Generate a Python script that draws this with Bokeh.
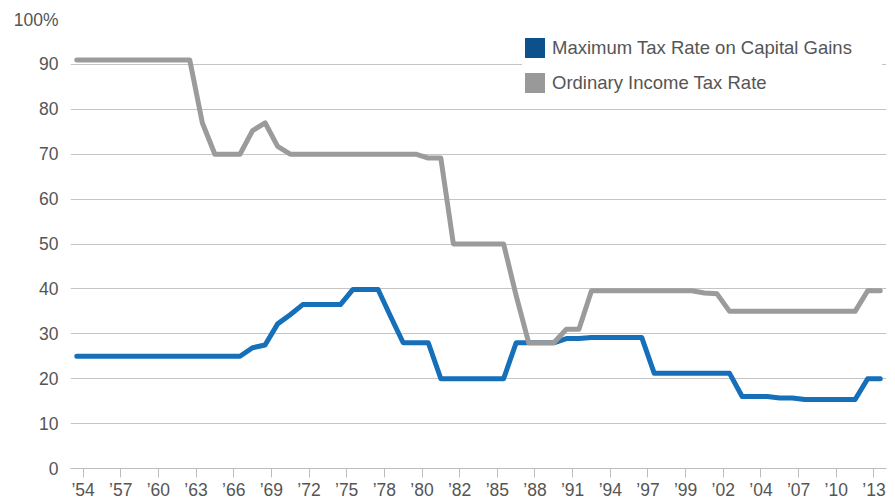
from bokeh.plotting import figure
from bokeh.models import FixedTicker, Legend, LegendItem, Range1d
from bokeh.embed import file_html
from bokeh.resources import INLINE

# Periods (some years appear twice because the rate changed mid-year)
periods = [
    "1954", "1955", "1956", "1957", "1958", "1959", "1960", "1961", "1962", "1963",
    "1964", "1965", "1966", "1967", "1968", "1969", "1970", "1971", "1972", "1973",
    "1974", "1975", "1976", "1977", "1978", "1978b", "1979", "1980", "1981", "1981b",
    "1982", "1983", "1984", "1985", "1986", "1987", "1988", "1989", "1990", "1991",
    "1992", "1993", "1994", "1995", "1996", "1997", "1997b", "1998", "1999", "2000",
    "2001", "2002", "2003", "2003b", "2004", "2005", "2006", "2007", "2008", "2009",
    "2010", "2011", "2012", "2013", "2013b",
]

capital_gains = [
    25, 25, 25, 25, 25, 25, 25, 25, 25, 25,
    25, 25, 25, 25, 26.9, 27.5, 32.21, 34.25, 36.5, 36.5,
    36.5, 36.5, 39.875, 39.875, 39.875, 33.85, 28, 28, 28, 20,
    20, 20, 20, 20, 20, 28, 28, 28, 28, 28.93,
    28.93, 29.19, 29.19, 29.19, 29.19, 29.19, 21.19, 21.19, 21.19, 21.19,
    21.19, 21.19, 21.19, 16.05, 16.05, 16.05, 15.7, 15.7, 15.35, 15.35,
    15.35, 15.35, 15.35, 20, 20,
]

ordinary_income = [
    91, 91, 91, 91, 91, 91, 91, 91, 91, 91,
    77, 70, 70, 70, 75.25, 77, 71.75, 70, 70, 70,
    70, 70, 70, 70, 70, 70, 70, 70, 69.13, 69.13,
    50, 50, 50, 50, 50, 38.5, 28, 28, 28, 31,
    31, 39.6, 39.6, 39.6, 39.6, 39.6, 39.6, 39.6, 39.6, 39.6,
    39.1, 38.9, 35, 35, 35, 35, 35, 35, 35, 35,
    35, 35, 35, 39.6, 39.6,
]

tick_years = ["1954", "1957", "1960", "1963", "1966", "1969", "1972", "1975", "1978",
              "1980", "1982", "1985", "1988", "1991", "1994", "1997", "1999", "2002",
              "2004", "2007", "2010", "2013"]
tick_labels = ["\u201954", "\u201957", "\u201960", "\u201963", "\u201966", "\u201969",
               "\u201972", "\u201975", "\u201978", "\u201980", "\u201982", "\u201985",
               "\u201988", "\u201991", "\u201994", "\u201997", "\u201999", "\u201902",
               "\u201904", "\u201907", "\u201910", "\u201913"]

y_ticks = [0, 10, 20, 30, 40, 50, 60, 70, 80, 90, 100]
y_labels = ["0", "10", "20", "30", "40", "50", "60", "70", "80", "90", "100%"]

series_names = ["Maximum Tax Rate on Capital Gains", "Ordinary Income Tax Rate"]

FONT = "Liberation Sans"
TXT = "#555555"
BLUE_LINE = "#1670b9"
BLUE_SWATCH = "#0c5189"
GRAY_LINE = "#9b9b9b"
GRAY_SWATCH = "#999999"
GRID = "#c4c4c4"

xs = list(range(len(periods)))

p = figure(width=887, height=502,
           x_range=Range1d(-0.5, len(periods) - 0.5), y_range=Range1d(0, 100),
           output_backend="svg", toolbar_location=None,
           min_border_left=70, min_border_right=1, min_border_top=19, min_border_bottom=34,
           outline_line_color=None, background_fill_color="white")

tick_pos = [periods.index(y) + 0.5 for y in tick_years]
p.xaxis.ticker = FixedTicker(ticks=tick_pos)
p.xaxis.major_label_overrides = {t: l for t, l in zip(tick_pos, tick_labels)}
p.xaxis.axis_line_color = "#bdbdbd"
p.xaxis.major_tick_line_color = "#bdbdbd"
p.xaxis.major_tick_in = 0
p.xaxis.major_tick_out = 9
p.xaxis.minor_tick_line_color = None
p.xaxis.major_label_standoff = 2
p.xaxis.major_label_text_font = FONT
p.xaxis.major_label_text_font_size = "17.5px"
p.xaxis.major_label_text_color = TXT

p.yaxis.ticker = FixedTicker(ticks=y_ticks)
p.yaxis.major_label_overrides = {t: l for t, l in zip(y_ticks, y_labels)}
p.yaxis.axis_line_color = None
p.yaxis.major_tick_line_color = None
p.yaxis.minor_tick_line_color = None
p.yaxis.major_tick_in = 0
p.yaxis.major_tick_out = 0
p.yaxis.major_label_standoff = 12
p.yaxis.major_label_text_font = FONT
p.yaxis.major_label_text_font_size = "17.5px"
p.yaxis.major_label_text_color = TXT

p.xgrid.visible = False
p.ygrid.grid_line_color = GRID
p.ygrid.grid_line_width = 1

p.line(xs, capital_gains, line_width=5, line_color=BLUE_LINE,
       line_join="round", line_cap="round")
p.line(xs, ordinary_income, line_width=5, line_color=GRAY_LINE,
       line_join="round", line_cap="round")

nan = float("nan")
sw1 = p.rect(x=[nan], y=[nan], width=1, height=1, fill_color=BLUE_SWATCH, line_color=None)
sw2 = p.rect(x=[nan], y=[nan], width=1, height=1, fill_color=GRAY_SWATCH, line_color=None)

legend = Legend(
    items=[LegendItem(label=series_names[0], renderers=[sw1]),
           LegendItem(label=series_names[1], renderers=[sw2])],
    location=(452, 373), glyph_width=25, glyph_height=25, label_standoff=5,
    label_width=330, spacing=10, padding=15, margin=0,
    border_line_color=None, background_fill_color="white", background_fill_alpha=1,
    label_text_font=FONT, label_text_font_size="18.5px", label_text_color=TXT,
)
p.add_layout(legend)

open("out.html", "w").write(file_html(p, INLINE))
